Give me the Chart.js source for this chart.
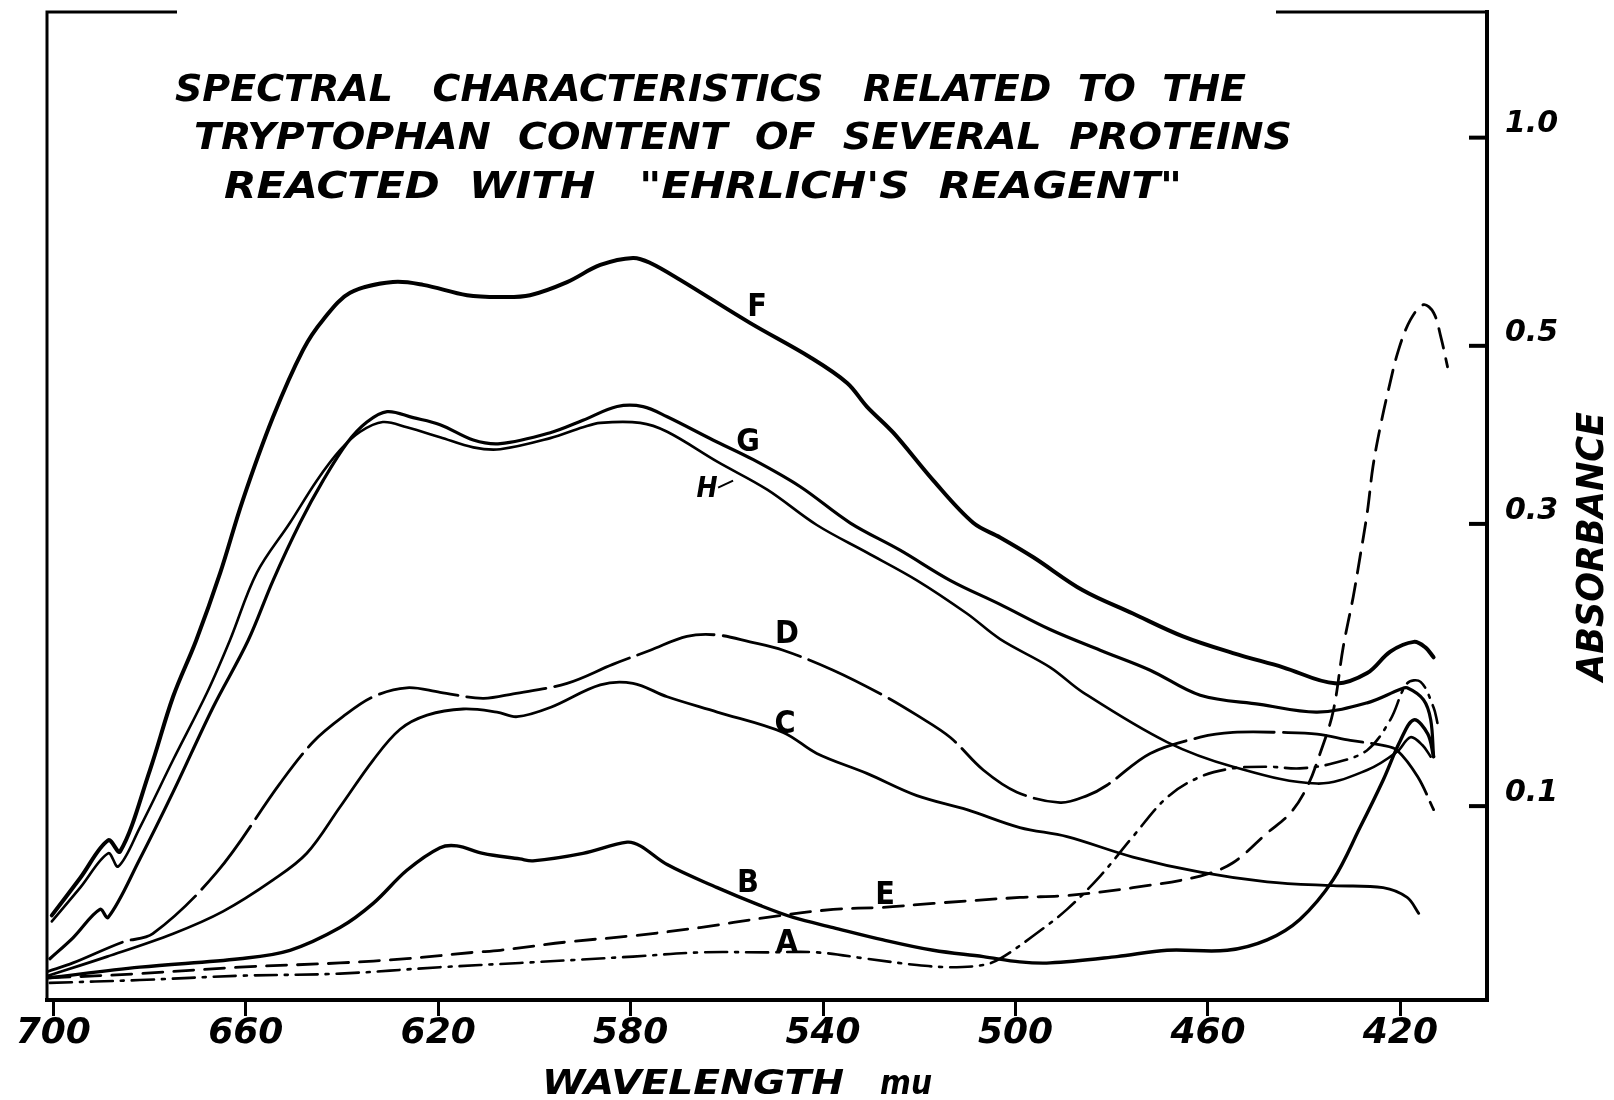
<!DOCTYPE html>
<html>
<head>
<meta charset="utf-8">
<title>Spectral characteristics - Ehrlich's reagent</title>
<script src="https://cdn.jsdelivr.net/npm/chart.js@4.4.1/dist/chart.umd.min.js"></script>
<style>
  html, body { margin: 0; padding: 0; background: #fff; }
  #chart { display: block; }
</style>
</head>
<body>
<canvas id="chart" width="1614" height="1100" style="width:1614px;height:1100px"></canvas>
<script>
// axis ticks
const wavelengthTicks = [700, 660, 620, 580, 540, 500, 460, 420];
const absorbanceTicks = [1.0, 0.5, 0.3, 0.1];

// curves: wavelength (mu) and absorbance
const fNm  = [700.3, 694.4, 688.6, 686.1, 679.9, 675.1, 670.3, 665.3, 660.6, 654.3, 648.1, 643.9, 638.3, 629.4, 623.1, 614.0, 607.1, 600.9, 593.2, 586.3, 579.5, 575.9, 569.7, 555.2, 542.7, 535.0, 530.9, 525.4, 517.1, 508.8, 503.2, 496.3, 486.0, 475.6, 465.2, 454.8, 444.4, 433.6, 426.9, 422.1, 417.2, 414.8, 413.1];
const fAbs = [0.042, 0.061, 0.081, 0.075, 0.121, 0.167, 0.206, 0.258, 0.322, 0.409, 0.494, 0.539, 0.583, 0.602, 0.597, 0.579, 0.576, 0.579, 0.602, 0.634, 0.648, 0.638, 0.606, 0.534, 0.484, 0.450, 0.421, 0.391, 0.341, 0.301, 0.288, 0.271, 0.244, 0.226, 0.209, 0.197, 0.187, 0.176, 0.183, 0.198, 0.205, 0.201, 0.194];

const gNm  = [700.7, 695.9, 690.3, 688.6, 682.0, 675.1, 666.8, 659.5, 654.3, 648.7, 643.9, 638.9, 634.8, 630.6, 625.2, 619.6, 612.7, 607.1, 596.7, 589.9, 582.8, 577.4, 572.4, 562.9, 554.5, 544.8, 534.4, 524.0, 513.6, 503.2, 492.8, 482.4, 472.0, 461.6, 449.2, 437.3, 426.9, 420.0, 418.6, 415.2, 413.7, 413.1];
const gAbs = [0.021, 0.031, 0.045, 0.041, 0.071, 0.108, 0.160, 0.206, 0.252, 0.301, 0.341, 0.380, 0.403, 0.415, 0.408, 0.400, 0.383, 0.379, 0.391, 0.405, 0.421, 0.421, 0.409, 0.383, 0.362, 0.335, 0.301, 0.277, 0.252, 0.233, 0.214, 0.199, 0.185, 0.168, 0.162, 0.157, 0.163, 0.172, 0.173, 0.165, 0.152, 0.129];

const hNm  = [700.3, 694.4, 688.6, 686.5, 682.0, 675.1, 668.0, 663.3, 657.7, 650.8, 645.2, 640.4, 636.2, 631.5, 626.5, 619.6, 612.7, 607.1, 596.7, 589.9, 586.3, 578.0, 572.4, 562.0, 551.6, 541.3, 530.9, 520.5, 510.1, 503.2, 492.8, 486.0, 468.5, 454.8, 437.3, 426.9, 420.7, 417.9, 415.4, 413.7];
const hAbs = [0.039, 0.056, 0.074, 0.067, 0.088, 0.127, 0.170, 0.206, 0.258, 0.301, 0.341, 0.372, 0.392, 0.403, 0.397, 0.386, 0.375, 0.373, 0.385, 0.397, 0.402, 0.402, 0.392, 0.360, 0.332, 0.299, 0.275, 0.252, 0.226, 0.207, 0.187, 0.170, 0.138, 0.123, 0.113, 0.121, 0.132, 0.141, 0.136, 0.129];

const dNm  = [701.1, 695.9, 685.5, 679.3, 666.0, 652.9, 646.0, 639.8, 633.5, 626.5, 619.6, 610.7, 604.4, 593.2, 583.7, 575.9, 568.3, 562.0, 555.2, 548.3, 537.9, 527.5, 520.5, 513.6, 506.7, 499.7, 490.7, 485.1, 481.0, 472.0, 461.6, 454.8, 444.4, 437.3, 430.4, 423.6, 420.7, 416.4, 413.1];
const dAbs = [0.015, 0.019, 0.029, 0.033, 0.064, 0.113, 0.138, 0.154, 0.167, 0.173, 0.170, 0.166, 0.169, 0.176, 0.189, 0.199, 0.209, 0.210, 0.205, 0.199, 0.185, 0.168, 0.155, 0.141, 0.121, 0.108, 0.102, 0.106, 0.112, 0.131, 0.141, 0.144, 0.144, 0.143, 0.139, 0.136, 0.133, 0.117, 0.098];

const cNm  = [701.1, 688.8, 675.1, 664.7, 654.3, 647.3, 640.4, 633.5, 627.9, 622.3, 614.8, 607.8, 603.6, 596.7, 586.3, 579.5, 572.4, 562.0, 548.3, 541.3, 530.9, 520.5, 510.1, 499.1, 489.3, 475.6, 461.6, 447.7, 434.0, 423.6, 418.6, 416.2];
const cAbs = [0.013, 0.022, 0.033, 0.044, 0.060, 0.074, 0.0995, 0.127, 0.146, 0.155, 0.159, 0.157, 0.154, 0.160, 0.175, 0.176, 0.167, 0.157, 0.144, 0.131, 0.119, 0.106, 0.098, 0.088, 0.083, 0.072, 0.064, 0.059, 0.057, 0.056, 0.051, 0.043];

const bNm  = [701.1, 682.0, 661.2, 650.8, 640.4, 633.5, 626.5, 619.6, 616.1, 610.7, 603.0, 600.3, 589.9, 580.7, 578.0, 572.4, 562.0, 553.1, 546.2, 537.9, 527.5, 517.1, 506.7, 499.1, 492.8, 478.9, 468.5, 456.0, 447.7, 440.9, 434.0, 428.4, 423.6, 420.0, 417.2, 414.3, 413.1];
const bAbs = [0.012, 0.017, 0.021, 0.025, 0.036, 0.048, 0.065, 0.077, 0.078, 0.074, 0.071, 0.070, 0.074, 0.080, 0.078, 0.068, 0.056, 0.047, 0.041, 0.036, 0.030, 0.025, 0.022, 0.0195, 0.019, 0.022, 0.025, 0.025, 0.030, 0.040, 0.060, 0.088, 0.115, 0.139, 0.152, 0.143, 0.129];

const eNm  = [700.7, 682.0, 661.2, 640.4, 626.5, 612.7, 607.1, 593.2, 579.5, 565.6, 551.6, 537.9, 527.5, 517.1, 499.1, 489.3, 475.6, 461.6, 454.8, 447.7, 442.9, 439.4, 436.7, 434.0, 431.9, 429.8, 428.4, 426.9, 425.7, 424.2, 422.5, 420.4, 417.9, 415.2, 413.1, 411.6, 410.2];
const eAbs = [0.012, 0.014, 0.017, 0.019, 0.021, 0.024, 0.025, 0.029, 0.032, 0.036, 0.041, 0.045, 0.046, 0.048, 0.051, 0.052, 0.056, 0.062, 0.069, 0.085, 0.096, 0.111, 0.131, 0.157, 0.201, 0.239, 0.271, 0.310, 0.355, 0.397, 0.441, 0.494, 0.539, 0.563, 0.550, 0.513, 0.471];

const aNm  = [700.7, 682.0, 661.2, 640.4, 619.6, 603.0, 579.5, 565.6, 551.6, 541.3, 530.9, 520.5, 513.6, 506.7, 503.2, 496.3, 489.3, 482.4, 475.6, 468.5, 461.6, 454.8, 447.7, 440.9, 434.0, 426.9, 422.1, 418.6, 415.8, 413.1, 412.3];
const aAbs = [0.0097, 0.011, 0.013, 0.014, 0.017, 0.019, 0.022, 0.024, 0.024, 0.024, 0.021, 0.018, 0.017, 0.018, 0.021, 0.032, 0.045, 0.062, 0.083, 0.105, 0.117, 0.122, 0.123, 0.122, 0.125, 0.133, 0.152, 0.176, 0.177, 0.160, 0.150];

// curve letters: [text, wavelength, absorbance]
const curveLabels = [['F', 553.7, 0.558], ['G', 555.6, 0.380], ['H', 564.1, 0.332], ['D', 547.5, 0.210],
                     ['C', 547.9, 0.149], ['B', 555.6, 0.058], ['E', 527.1, 0.052], ['A', 547.5, 0.028]];

const titleLines = [
  'SPECTRAL   CHARACTERISTICS   RELATED  TO  THE',
  'TRYPTOPHAN  CONTENT  OF  SEVERAL  PROTEINS',
  'REACTED  WITH   "EHRLICH\'S  REAGENT"'
];

// the chart paper is linear in transmittance, so plot T = 10^-A
const toT = a => Math.pow(10, -a);
const series = (nm, abs) => nm.map((w, i) => ({ x: w, y: toT(abs[i]) }));

const LETTER = '"DejaVu Sans Condensed", "DejaVu Sans", sans-serif';

function curve(label, nm, abs, width, dash) {
  return {
    label: label,
    data: series(nm, abs),
    borderColor: '#000',
    borderWidth: width,
    borderDash: dash,
    borderCapStyle: 'round',
    tension: 0.35,
    pointRadius: 0,
    fill: false,
  };
}

function fitText(ctx, text, left, right, baseline) {
  const w = ctx.measureText(text).width;
  ctx.save();
  ctx.translate(left, baseline);
  ctx.scale((right - left) / w, 1);
  ctx.fillText(text, 0, 0);
  ctx.restore();
}

// keep the plot box where the drawing has it
function noPadding(s) {
  s.paddingTop = 0;
  s.paddingBottom = 0;
  s.paddingLeft = 0;
  s.paddingRight = 0;
}

const decorations = {
  id: 'decorations',
  beforeDraw(chart) {
    const ctx = chart.ctx;
    ctx.save();
    ctx.fillStyle = '#fff';
    ctx.fillRect(0, 0, chart.width, chart.height);
    ctx.restore();
  },
  afterDraw(chart) {
    const { ctx, chartArea: a, scales: { x, y } } = chart;
    ctx.save();
    ctx.strokeStyle = '#000';
    ctx.fillStyle = '#000';

    // left edge and the broken top edge of the frame
    ctx.lineWidth = 3;
    ctx.beginPath();
    ctx.moveTo(a.left, a.bottom);
    ctx.lineTo(a.left, a.top);
    ctx.lineTo(177, a.top);
    ctx.moveTo(1276, a.top);
    ctx.lineTo(a.right, a.top);
    ctx.stroke();

    // absorbance ticks point inward
    ctx.lineWidth = 4;
    absorbanceTicks.forEach(v => {
      const py = y.getPixelForValue(toT(v));
      ctx.beginPath();
      ctx.moveTo(a.right - 18, py);
      ctx.lineTo(a.right, py);
      ctx.stroke();
    });

    // curve letters
    ctx.font = 'bold 32px ' + LETTER;
    ctx.textAlign = 'center';
    ctx.textBaseline = 'middle';
    curveLabels.forEach(([t, nm, ab]) => {
      const px = x.getPixelForValue(nm), py = y.getPixelForValue(toT(ab));
      if (t === 'H') {
        ctx.save();
        ctx.font = 'italic bold 28px ' + LETTER;
        ctx.fillText(t, px, py);
        ctx.restore();
        ctx.lineWidth = 2;
        ctx.beginPath();
        ctx.moveTo(px + 11, py - 2);
        ctx.lineTo(px + 26, py - 9);
        ctx.stroke();
      } else {
        ctx.fillText(t, px, py);
      }
    });

    // title
    ctx.textAlign = 'left';
    ctx.textBaseline = 'alphabetic';
    ctx.font = 'italic bold 37px ' + LETTER;
    fitText(ctx, titleLines[0], 175, 1246, 101);
    fitText(ctx, titleLines[1], 194, 1292, 149);
    fitText(ctx, titleLines[2], 224, 1182, 198);

    // axis names
    ctx.font = 'italic bold 34px ' + LETTER;
    fitText(ctx, 'WAVELENGTH', 542, 844, 1094);
    fitText(ctx, 'mu', 880, 932, 1094);

    ctx.save();
    ctx.translate(1603, 681);
    ctx.rotate(-Math.PI / 2);
    ctx.font = 'italic bold 38px ' + LETTER;
    fitText(ctx, 'ABSORBANCE', 0, 269, 0);
    ctx.restore();

    ctx.restore();
  }
};

const tickFont = { family: 'DejaVu Sans', size: 36, style: 'italic', weight: 'bold', lineHeight: 1 };

new Chart(document.getElementById('chart'), {
  type: 'line',
  data: {
    datasets: [
      curve('F', fNm, fAbs, 4, []),
      curve('G', gNm, gAbs, 3.2, []),
      curve('H', hNm, hAbs, 2.6, []),
      curve('D', dNm, dAbs, 2.8, [80, 9]),
      curve('C', cNm, cAbs, 2.8, []),
      curve('B', bNm, bAbs, 3.4, []),
      curve('E', eNm, eAbs, 2.8, [20, 11]),
      curve('A', aNm, aAbs, 2.6, [22, 8, 3, 8]),
    ]
  },
  options: {
    responsive: false,
    animation: false,
    devicePixelRatio: 1,
    events: [],
    layout: { padding: { left: 47, top: 12, right: 0, bottom: 0 } },
    plugins: {
      legend: { display: false },
      tooltip: { enabled: false },
    },
    scales: {
      x: {
        type: 'linear',
        reverse: true,
        min: 402,
        max: 701.3,
        afterBuildTicks: s => { s.ticks = wavelengthTicks.map(v => ({ value: v })); },
        afterFit: s => { s.height = 100; noPadding(s); },
        grid: { drawOnChartArea: false, drawTicks: true, tickLength: 16, lineWidth: 3, color: '#000' },
        border: { display: true, color: '#000', width: 4 },
        ticks: { color: '#000', padding: 0, autoSkip: false, maxRotation: 0, font: tickFont },
      },
      y: {
        type: 'linear',
        position: 'right',
        reverse: true,
        min: -0.0305,
        max: 0.9957,
        afterBuildTicks: s => { s.ticks = absorbanceTicks.map(v => ({ value: toT(v) })); },
        afterFit: s => { s.width = 127; noPadding(s); },
        grid: { display: false, drawTicks: false },
        border: { display: true, color: '#000', width: 4 },
        ticks: {
          color: '#000',
          padding: 18,
          labelOffset: -13,
          callback: (v, i) => absorbanceTicks[i].toFixed(1),
          font: { family: 'DejaVu Sans', size: 30, style: 'italic', weight: 'bold', lineHeight: 1 },
        },
      },
    },
  },
  plugins: [decorations],
});
</script>
</body>
</html>
